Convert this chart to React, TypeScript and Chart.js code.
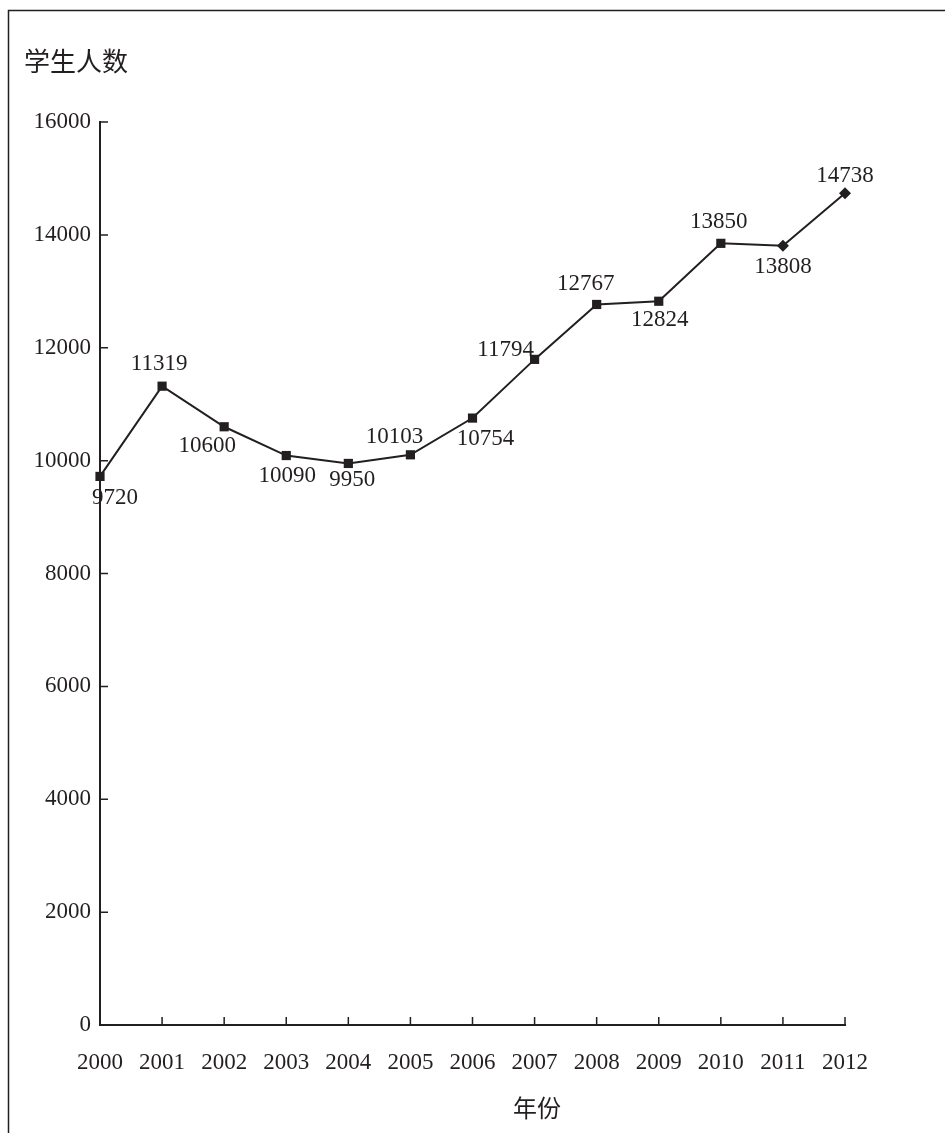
import React, { useEffect, useRef } from "react";
import { Chart, registerables } from "chart.js";

Chart.register(...registerables);

const years = ["2000", "2001", "2002", "2003", "2004", "2005", "2006", "2007", "2008", "2009", "2010", "2011", "2012"];
const studentCounts = [9720, 11319, 10600, 10090, 9950, 10103, 10754, 11794, 12767, 12824, 13850, 13808, 14738];
const markerStyles = ["rect", "rect", "rect", "rect", "rect", "rect", "rect", "rect", "rect", "rect", "rect", "rectRot", "rectRot"];
const yMin = 0;
const yMax = 16000;
const yStep = 2000;
const yAxisTitle = "学生人数";
const xAxisTitle = "年份";

// label placement relative to each point (dx, dy)
const labelOffsets = [
  [15, 21], [-3, -23], [-17, 18], [1, 19], [4, 16], [-16, -19], [13, 20],
  [-29, -10], [-11, -22], [1, 18], [-2, -22], [0, 20], [0, -18],
];

const INK = "#231f20";
const SERIF = "'Liberation Serif', 'Times New Roman', serif";
const CJK = "'Noto Sans CJK SC', sans-serif";

const decorPlugin = {
  id: "decor",
  beforeDraw(chart: any) {
    const ctx = chart.ctx;
    ctx.save();
    ctx.strokeStyle = INK;
    ctx.lineWidth = 1.5;
    ctx.beginPath();
    ctx.moveTo(8.5, chart.height);
    ctx.lineTo(8.5, 10.5);
    ctx.lineTo(chart.width, 10.5);
    ctx.stroke();
    ctx.restore();
  },
  afterDraw(chart: any) {
    const ctx = chart.ctx;
    const xs = chart.scales.x;
    const ys = chart.scales.y;
    const area = chart.chartArea;
    ctx.save();
    ctx.strokeStyle = INK;
    ctx.lineWidth = 1.5;
    ctx.beginPath();
    ys.ticks.forEach((t: any) => {
      const py = ys.getPixelForValue(t.value);
      ctx.moveTo(area.left, py);
      ctx.lineTo(area.left + 8, py);
    });
    years.forEach((_, i) => {
      const px = xs.getPixelForValue(i);
      ctx.moveTo(px, area.bottom);
      ctx.lineTo(px, area.bottom - 8);
    });
    ctx.stroke();

    ctx.fillStyle = INK;
    ctx.textAlign = "left";
    ctx.textBaseline = "middle";
    ctx.font = `26px ${CJK}`;
    ctx.fillText(yAxisTitle, 24, 61);
    ctx.textAlign = "center";
    ctx.font = `24px ${CJK}`;
    ctx.fillText(xAxisTitle, 537, 1108);

    const meta = chart.getDatasetMeta(0);
    ctx.font = `23px ${SERIF}`;
    ctx.textAlign = "center";
    ctx.textBaseline = "middle";
    meta.data.forEach((pt: any, i: number) => {
      const [dx, dy] = labelOffsets[i];
      ctx.fillText(String(studentCounts[i]), pt.x + dx, pt.y + dy + 1);
    });
    ctx.restore();
  },
};

export default function App() {
  const ref = useRef<HTMLCanvasElement>(null);
  useEffect(() => {
    if (!ref.current) return;
    const chart = new Chart(ref.current, {
      type: "line",
      data: {
        labels: years,
        datasets: [
          {
            data: studentCounts,
            borderColor: INK,
            borderWidth: 2,
            backgroundColor: INK,
            pointBackgroundColor: INK,
            pointBorderColor: INK,
            pointBorderWidth: 0,
            pointStyle: markerStyles as any,
            pointRadius: markerStyles.map((s) => (s === "rect" ? 6.5 : 6)),
            tension: 0,
            clip: false as any,
          },
        ],
      },
      options: {
        responsive: false,
        animation: false,
        layout: { padding: { left: 0, top: 122, right: 100, bottom: 0 } },
        plugins: { legend: { display: false }, tooltip: { enabled: false }, title: { display: false } },
        scales: {
          x: {
            type: "category",
            offset: false,
            grid: { display: false, drawTicks: false },
            border: { display: true, color: INK, width: 2 },
            ticks: {
              color: INK,
              font: { family: SERIF, size: 23 },
              padding: 24,
              maxRotation: 0,
              autoSkip: false,
            },
            afterFit: (s: any) => { s.height = 108; },
          },
          y: {
            min: yMin,
            max: yMax,
            grid: { display: false, drawTicks: false },
            border: { display: true, color: INK, width: 2 },
            ticks: {
              stepSize: yStep,
              color: INK,
              font: { family: SERIF, size: 23 },
              padding: 9,
              callback: (v: any) => String(v),
            },
            afterFit: (s: any) => { s.width = 100; },
          },
        },
      },
      plugins: [decorPlugin],
    });
    return () => chart.destroy();
  }, []);
  return (
    <div style={{ position: "absolute", left: 0, top: 0, width: 945, height: 1133, background: "#fff" }}>
      <canvas ref={ref} width={945} height={1133} />
    </div>
  );
}
